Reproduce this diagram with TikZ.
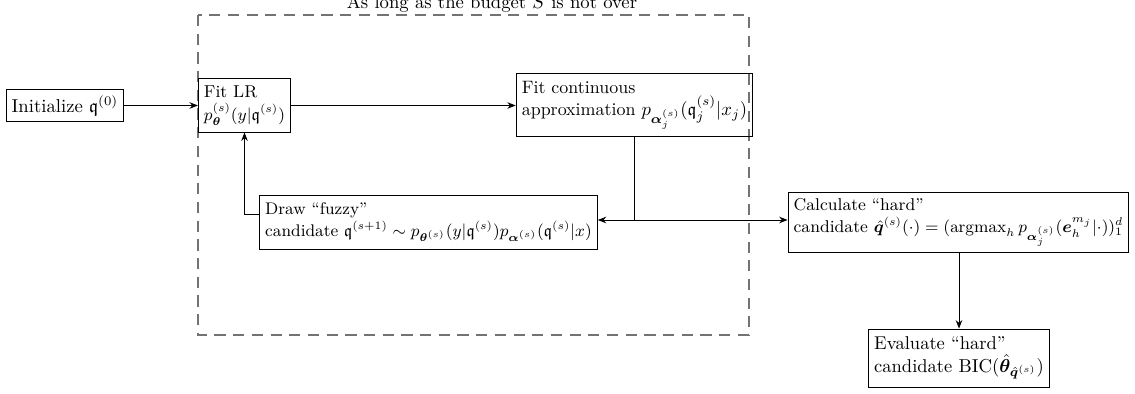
\documentclass[tikz,border=0pt]{standalone}
\usepackage{amsmath,amssymb,bm}
\usetikzlibrary{arrows.meta,calc}
\newcommand{\fsz}[1]{\fontsize{#1}{12}\selectfont}
\begin{document}
\begin{tikzpicture}[x=0.535pt,y=-0.535pt,
  box/.style={draw,rectangle,align=left,inner sep=3pt,line width=0.5pt},
  conn/.style={line width=0.5pt,-{Stealth[length=4.5pt,width=3.5pt]}},
  loopbox/.style={draw=black!55,line width=1.1pt,dash pattern=on 6pt off 4pt}]
\useasboundingbox (0,0) rectangle (1135,394);
\draw[loopbox] (198,15) rectangle (749,335);
\node[anchor=south,inner sep=1pt] (title) at (492,15) {As long as the budget $S$ is not over};
\node[box] (init) at (65,105.5) {Initialize $\mathfrak{q}^{(0)}$};
\node[box,font=\fsz{9.2},minimum height=28.4pt] (fitlr) at (244.5,105.5) {Fit LR\\$p_{\bm\theta}^{(s)}(y|\mathfrak{q}^{(s)})$};
\node[box,font=\fsz{9.6},minimum height=34.2pt] (fitcont) at (634.5,105) {Fit continuous\\approximation $p_{\bm\alpha_j^{(s)}}(\mathfrak{q}_j^{(s)}|x_j)$};
\node[box,font=\fsz{9.0},minimum height=28.9pt] (draw) at (428.5,222) {Draw ``fuzzy''\\candidate $\mathfrak{q}^{(s+1)}\sim p_{\bm\theta^{(s)}}(y|\mathfrak{q}^{(s)})p_{\bm\alpha^{(s)}}(\mathfrak{q}^{(s)}|x)$};
\node[box,font=\fsz{9.15},minimum height=32.6pt] (calc) at (958.5,222.5) {Calculate ``hard''\\candidate $\hat{\bm q}^{(s)}(\cdot)=(\operatorname{argmax}_h p_{\bm\alpha_j^{(s)}}(\bm e_h^{m_j}|\cdot))_1^d$};
\node[box,font=\fsz{9.9},minimum height=31pt] (eval) at (959,358) {Evaluate ``hard''\\candidate $\mathrm{BIC}(\hat{\bm\theta}_{\hat{\bm q}^{(s)}})$};
\coordinate (junc) at (fitcont.south |- 0,220);
\draw[conn] (init) -- (fitlr.west |- init);
\draw[conn] (fitlr) -- (fitcont.west |- fitlr);
\draw[line width=0.5pt] (fitcont.south) -- (junc);
\draw[conn] (junc) -- (draw.east |- junc);
\draw[conn] (junc) -- (calc.west |- junc);
\draw[conn] ($(draw.west)+(0,-8)$) -| (fitlr.south);
\draw[conn] (calc.south -| eval.north) -- (eval.north);
\end{tikzpicture}
\end{document}
